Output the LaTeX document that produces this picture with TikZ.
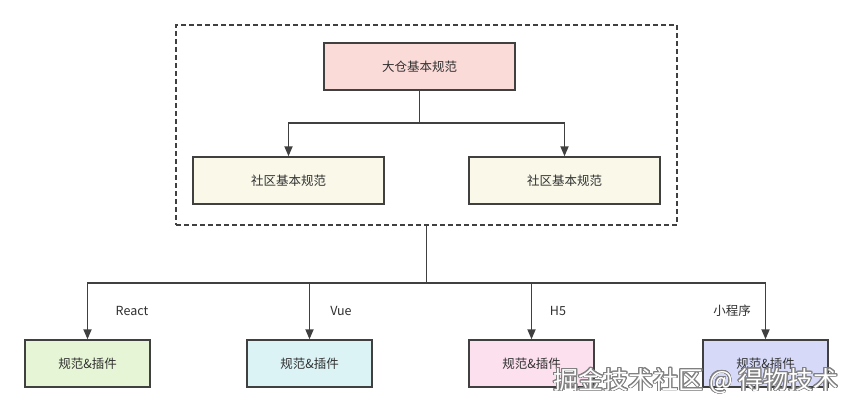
\documentclass[tikz,border=0pt]{standalone}
\usepackage{fontspec}
\setmainfont{Noto Sans CJK SC}
\usepackage{contour}
\contournumber{24}
\contourlength{0.7pt}
\usetikzlibrary{positioning}
\usetikzlibrary{arrows.meta}
\definecolor{edgegray}{HTML}{404040}
\definecolor{txtgray}{HTML}{303030}
\definecolor{toppink}{HTML}{FADBD8}
\definecolor{midyellow}{HTML}{F9F8E9}
\definecolor{reactgreen}{HTML}{E6F5D6}
\definecolor{vuecyan}{HTML}{DCF3F5}
\definecolor{hpink}{HTML}{FCE0EE}
\definecolor{mplav}{HTML}{D6DAF8}
\tikzset{conn/.style = {draw=edgegray, line width=1.8pt}}
\tikzset{arr/.style = {conn, -{Triangle[width=8pt,length=10pt]}}}
\tikzset{specbox/.style = {draw=edgegray, line width=1.4pt, minimum width=191pt,
                           minimum height=47pt, inner sep=0pt, text=txtgray,
                           font=\fontsize{12.5}{14}\selectfont}}
\tikzset{plugbox/.style = {specbox, minimum width=125pt}}
\tikzset{lbl/.style = {text=txtgray, inner sep=0pt, font=\fontsize{12.5}{14}\selectfont}}
\begin{document}
\begin{tikzpicture}[x=1pt,y=-1pt]
      \useasboundingbox[fill=white] (0,0) rectangle (853,412);
      \node[draw=edgegray, dash pattern=on 5pt off 3pt, line width=1.4pt,
            minimum width=501pt, minimum height=200pt, inner sep=0pt]
        (grp) at (426.5,125) {};
      \node[specbox, fill=toppink] (top) at (419.5,66.5) {大仓基本规范};
      \node[specbox, fill=midyellow] (midL) at (288.5,180.5) {社区基本规范};
      \node[specbox, fill=midyellow] (midR) at (564.5,180.5) {社区基本规范};
      \coordinate (fork) at (419.5,123);
      \draw[conn] (top.south) -- (fork);
      \draw[arr] (fork) -| (midL.north);
      \draw[arr] (fork) -| (midR.north);
      \node[plugbox, fill=reactgreen] (react) at (87.5,363.5) {规范\&插件};
      \node[plugbox, fill=vuecyan] (vue) at (309.5,363.5) {规范\&插件};
      \node[plugbox, fill=hpink] (hfive) at (531.5,363.5) {规范\&插件};
      \node[plugbox, fill=mplav] (mini) at (765.5,363.5) {规范\&插件};
      \coordinate (split) at (426.5,283);
      \draw[conn] (grp.south) -- (split);
      \draw[arr] (split) -| (react.north);
      \draw[arr] (split) -| (vue.north);
      \draw[arr] (split) -| (hfive.north);
      \draw[arr] (split) -| (mini.north);
      \node[lbl] (lreact) at (132,311) {React};
      \node[lbl] (lvue) at (341,311) {Vue};
      \node[lbl] (lhfive) at (558,311) {H5};
      \node[lbl] (lmini) at (732,311) {小程序};
      \node[inner sep=0pt, text=white, font=\fontsize{25}{28}\selectfont]
        (wm) at (696,381) {\contour{gray}{掘金技术社区 @ 得物技术}};
    \end{tikzpicture}
\end{document}
